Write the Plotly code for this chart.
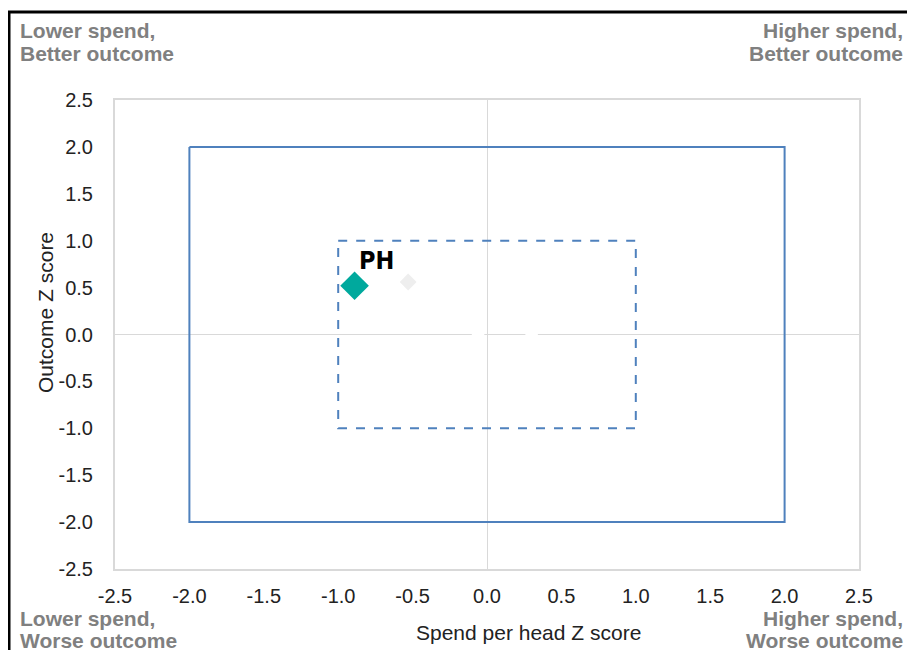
import plotly.graph_objects as go

# Data
point_labels = ["PH", "", "", ""]
spend_z = [-0.89, -0.53, -0.06, 0.30]
outcome_z = [0.52, 0.56, 0.0, 0.0]
point_colors = ["#00A99D", "#EEEEEE", "#FFFFFF", "#FFFFFF"]
point_sizes = [22, 13, 10, 10]

outer_box = (-2.0, 2.0)
inner_box = (-1.0, 1.0)
tick_vals = [-2.5, -2.0, -1.5, -1.0, -0.5, 0.0, 0.5, 1.0, 1.5, 2.0, 2.5]
tick_text = [f"{v:.1f}" for v in tick_vals]

corner_lines = {
    "tl": ["Lower spend,", "Better outcome"],
    "tr": ["Higher spend,", "Better outcome"],
    "bl": ["Lower spend,", "Worse outcome"],
    "br": ["Higher spend,", "Worse outcome"],
}

OFF = 8  # page body margin
W, H = 915 - OFF, 650 - OFF
L, T = 115 - OFF, 100 - OFF
R = W - (859 - OFF)
B = H - (569 - OFF)
pw, ph = W - L - R, H - T - B

def px_x(p):
    return (p - OFF - L) / pw

def px_y(p):
    return (H - B - (p - OFF)) / ph

fig = go.Figure()

box_color = "#4F81BD"
fig.add_trace(go.Scatter(
    x=[outer_box[0], outer_box[1], outer_box[1], outer_box[0], outer_box[0]],
    y=[outer_box[1], outer_box[1], outer_box[0], outer_box[0], outer_box[1]],
    mode="lines", line=dict(color=box_color, width=2), hoverinfo="skip", showlegend=False))
fig.add_trace(go.Scatter(
    x=[inner_box[0], inner_box[1], inner_box[1], inner_box[0], inner_box[0]],
    y=[inner_box[1], inner_box[1], inner_box[0], inner_box[0], inner_box[1]],
    mode="lines", line=dict(color=box_color, width=2, dash="dash"), hoverinfo="skip", showlegend=False))

for i in range(len(spend_z) - 1, -1, -1):
    fig.add_trace(go.Scatter(
        x=[spend_z[i]], y=[outcome_z[i]], mode="markers",
        marker=dict(symbol="diamond", size=point_sizes[i], color=point_colors[i]),
        showlegend=False))

axis_common = dict(
    range=[-2.5, 2.5], tickvals=tick_vals, ticktext=tick_text,
    showgrid=False, zeroline=True, zerolinecolor="#D9D9D9", zerolinewidth=1,
    showline=True, linecolor="#D9D9D9", linewidth=2, mirror=True,
    tickfont=dict(family="Liberation Sans, Arial", size=20, color="#222222"),
    ticks="", fixedrange=True,
)

fig.update_layout(
    width=W, height=H,
    margin=dict(l=L, r=R, t=T, b=B),
    paper_bgcolor="white", plot_bgcolor="white",
    xaxis=dict(**axis_common, ticklabelstandoff=8),
    yaxis=dict(**axis_common, ticklabelstandoff=16),
    font=dict(family="Liberation Sans, Arial"),
)

annots = []
for i, lab in enumerate(point_labels):
    if lab:
        annots.append(dict(x=spend_z[i], y=outcome_z[i], xref="x", yref="y", text=f"<b>{lab}</b>",
                           showarrow=False, xshift=22, yshift=25,
                           font=dict(family="DejaVu Sans Condensed, DejaVu Sans", size=25, color="black")))

cfont = dict(family="Liberation Sans, Arial", size=21, color="#808080")
pos = {"tl": (18, [30, 53], "left"), "tr": (905, [30, 53], "right"),
       "bl": (18, [618, 640], "left"), "br": (905, [618, 640], "right")}
for k, (xp, ys, side) in pos.items():
    for line, yp in zip(corner_lines[k], ys):
        annots.append(dict(xref="paper", yref="paper", x=px_x(xp), y=px_y(yp), xanchor=side,
                           yanchor="middle", text=f"<b>{line}</b>", showarrow=False, font=cfont))

annots.append(dict(xref="paper", yref="paper", x=px_x(528), y=px_y(632), xanchor="center", yanchor="middle",
                   text="Spend per head Z score", showarrow=False,
                   font=dict(family="Liberation Sans, Arial", size=21, color="#222222")))
annots.append(dict(xref="paper", yref="paper", x=px_x(45), y=px_y(313), xanchor="center", yanchor="middle",
                   text="Outcome Z score", showarrow=False, textangle=-90,
                   font=dict(family="Liberation Sans, Arial", size=21, color="#222222")))
fig.update_layout(annotations=annots)

# black frame lines (top and left)
fig.add_shape(type="line", xref="paper", yref="paper", x0=px_x(8), x1=px_x(940), y0=px_y(12), y1=px_y(12),
              line=dict(color="black", width=3))
fig.add_shape(type="line", xref="paper", yref="paper", x0=px_x(9), x1=px_x(9), y0=px_y(11), y1=px_y(680),
              line=dict(color="black", width=3))

fig.write_html("out.html")
